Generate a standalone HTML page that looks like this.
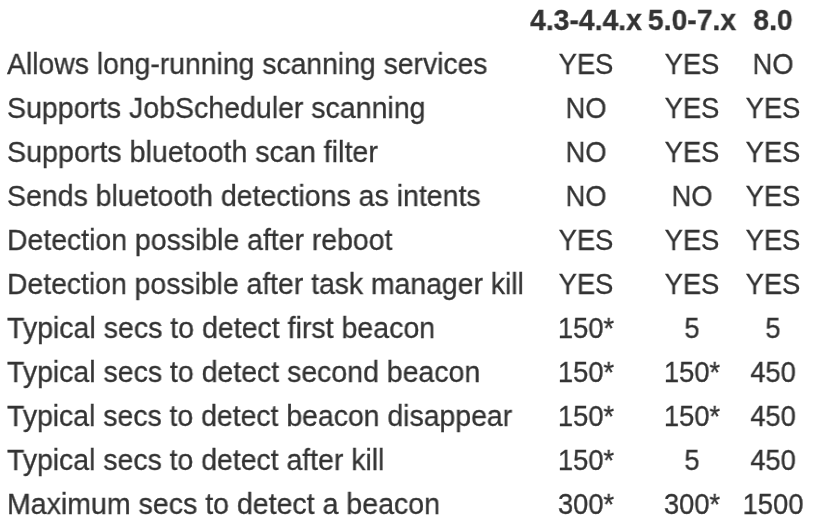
<!DOCTYPE html>
<html><head><meta charset="utf-8"><style>
html,body{margin:0;padding:0;background:#fff;}
body{width:818px;height:530px;position:relative;overflow:hidden;font-family:"Liberation Sans",sans-serif;font-size:29.500px;color:#333;}
.t,.c{will-change:transform;position:absolute;white-space:nowrap;line-height:1;-webkit-text-stroke:0.30px #333;}
.t{left:7px;transform:scaleX(0.96102);transform-origin:0 0;}
.c{width:200px;text-align:center;transform:scaleX(0.96102);transform-origin:50% 0;}
.v{transform:scaleX(0.92738);}
.b{font-weight:bold;}
</style></head><body>
<div class="c b" style="left:486.0px;top:4.93px">4.3-4.4.x</div>
<div class="c b" style="left:591.5px;top:4.93px">5.0-7.x</div>
<div class="c b" style="left:673.0px;top:4.93px">8.0</div>
<div class="t" style="top:48.83px;transform:scaleX(0.96082)">Allows long-running scanning services</div>
<div class="c v" style="left:486.0px;top:48.83px">YES</div>
<div class="c v" style="left:591.5px;top:48.83px">YES</div>
<div class="c v" style="left:673.0px;top:48.83px">NO</div>
<div class="t" style="top:92.83px;transform:scaleX(0.96659)">Supports JobScheduler scanning</div>
<div class="c v" style="left:486.0px;top:92.83px">NO</div>
<div class="c v" style="left:591.5px;top:92.83px">YES</div>
<div class="c v" style="left:673.0px;top:92.83px">YES</div>
<div class="t" style="top:136.83px;transform:scaleX(0.97071)">Supports bluetooth scan filter</div>
<div class="c v" style="left:486.0px;top:136.83px">NO</div>
<div class="c v" style="left:591.5px;top:136.83px">YES</div>
<div class="c v" style="left:673.0px;top:136.83px">YES</div>
<div class="t" style="top:180.83px;transform:scaleX(0.96592)">Sends bluetooth detections as intents</div>
<div class="c v" style="left:486.0px;top:180.83px">NO</div>
<div class="c v" style="left:591.5px;top:180.83px">NO</div>
<div class="c v" style="left:673.0px;top:180.83px">YES</div>
<div class="t" style="top:224.83px;transform:scaleX(0.96326)">Detection possible after reboot</div>
<div class="c v" style="left:486.0px;top:224.83px">YES</div>
<div class="c v" style="left:591.5px;top:224.83px">YES</div>
<div class="c v" style="left:673.0px;top:224.83px">YES</div>
<div class="t" style="top:268.83px;transform:scaleX(0.96102)">Detection possible after task manager kill</div>
<div class="c v" style="left:486.0px;top:268.83px">YES</div>
<div class="c v" style="left:591.5px;top:268.83px">YES</div>
<div class="c v" style="left:673.0px;top:268.83px">YES</div>
<div class="t" style="top:312.83px;transform:scaleX(0.96691)">Typical secs to detect first beacon</div>
<div class="c v" style="left:486.0px;top:312.83px">150*</div>
<div class="c v" style="left:591.5px;top:312.83px">5</div>
<div class="c v" style="left:673.0px;top:312.83px">5</div>
<div class="t" style="top:356.83px;transform:scaleX(0.96511)">Typical secs to detect second beacon</div>
<div class="c v" style="left:486.0px;top:356.83px">150*</div>
<div class="c v" style="left:591.5px;top:356.83px">150*</div>
<div class="c v" style="left:673.0px;top:356.83px">450</div>
<div class="t" style="top:400.83px;transform:scaleX(0.96254)">Typical secs to detect beacon disappear</div>
<div class="c v" style="left:486.0px;top:400.83px">150*</div>
<div class="c v" style="left:591.5px;top:400.83px">150*</div>
<div class="c v" style="left:673.0px;top:400.83px">450</div>
<div class="t" style="top:444.83px;transform:scaleX(0.96307)">Typical secs to detect after kill</div>
<div class="c v" style="left:486.0px;top:444.83px">150*</div>
<div class="c v" style="left:591.5px;top:444.83px">5</div>
<div class="c v" style="left:673.0px;top:444.83px">450</div>
<div class="t" style="top:488.83px;transform:scaleX(0.96729)">Maximum secs to detect a beacon</div>
<div class="c v" style="left:486.0px;top:488.83px">300*</div>
<div class="c v" style="left:591.5px;top:488.83px">300*</div>
<div class="c v" style="left:673.0px;top:488.83px">1500</div>
</body></html>
